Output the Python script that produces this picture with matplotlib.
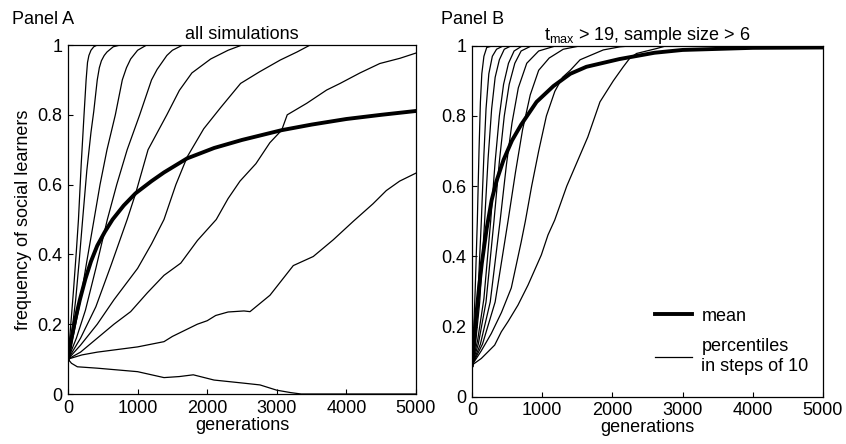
import matplotlib
matplotlib.use("Agg")
import matplotlib.pyplot as plt

plt.rcParams["font.family"] = ["Liberation Sans", "DejaVu Sans"]
plt.rcParams["mathtext.fontset"] = "custom"
plt.rcParams["mathtext.rm"] = "Liberation Sans"
plt.rcParams["mathtext.it"] = "Liberation Sans"

# ---- Panel A: all simulations (percentiles 10..90 + mean) ----
a_gen = [0, 40, 80, 120, 150, 190, 230, 260, 280, 300, 330, 370, 420, 5000]
a_val = [0.10, 0.20, 0.30, 0.41, 0.50, 0.66, 0.80, 0.90, 0.95, 0.97, 0.985, 0.995, 1.0, 1.0]

b_gen = [0, 50, 110, 160, 210, 270, 330, 370, 420, 450, 480, 520, 560, 650, 750, 5000]
b_val = [0.10, 0.17, 0.27, 0.38, 0.50, 0.64, 0.75, 0.81, 0.90, 0.935, 0.955, 0.97, 0.98, 0.995, 1.0, 1.0]

c_gen = [0, 80, 170, 270, 374, 460, 560, 680, 780, 840, 900, 1000, 1130, 5000]
c_val = [0.10, 0.17, 0.26, 0.38, 0.50, 0.60, 0.70, 0.80, 0.90, 0.935, 0.96, 0.985, 1.0, 1.0]

d_gen = [0, 120, 250, 400, 565, 700, 850, 1030, 1200, 1280, 1350, 1420, 1500, 1650, 5000]
d_val = [0.10, 0.16, 0.24, 0.36, 0.50, 0.60, 0.70, 0.80, 0.90, 0.93, 0.95, 0.97, 0.985, 1.0, 1.0]

e_gen = [0, 180, 400, 620, 850, 972, 1150, 1420, 1600, 1780, 2050, 2300, 2500, 5000]
e_val = [0.10, 0.16, 0.25, 0.37, 0.50, 0.575, 0.70, 0.80, 0.87, 0.92, 0.96, 0.985, 1.0, 1.0]

f_gen = [0, 180, 420, 660, 1000, 1200, 1379, 1550, 1714, 1950, 2190, 2480, 2750, 3050, 3290, 3480, 5000]
f_val = [0.10, 0.14, 0.20, 0.27, 0.36, 0.43, 0.50, 0.60, 0.68, 0.76, 0.82, 0.89, 0.923, 0.957, 0.98, 1.0, 1.0]

g_gen = [0, 180, 420, 660, 900, 1140, 1379, 1620, 1860, 2130, 2300, 2471, 2700, 2900,
         3070, 3150, 3430, 3716, 3910, 4195, 4480, 4770, 5000]
g_val = [0.10, 0.12, 0.16, 0.20, 0.236, 0.29, 0.34, 0.375, 0.44, 0.50, 0.56, 0.61, 0.66, 0.72,
         0.756, 0.80, 0.833, 0.871, 0.89, 0.92, 0.947, 0.962, 0.977]

h_gen = [0, 200, 421, 1000, 1379, 1500, 1858, 2000, 2122, 2300, 2529, 2615, 2902, 3237,
         3524, 3812, 4100, 4382, 4574, 4765, 5000]
h_val = [0.10, 0.112, 0.12, 0.135, 0.15, 0.165, 0.20, 0.21, 0.225, 0.235, 0.238, 0.236, 0.283, 0.368,
         0.394, 0.442, 0.495, 0.545, 0.583, 0.61, 0.633]

i_gen = [0, 50, 134, 421, 1000, 1379, 1600, 1800, 2098, 2529, 2759, 2998, 3200, 3350, 5000]
i_val = [0.10, 0.088, 0.078, 0.074, 0.064, 0.047, 0.05, 0.055, 0.04, 0.031, 0.026, 0.011, 0.004, 0.0, 0.0]

mean_a_gen = [0, 50, 100, 170, 250, 330, 420, 530, 640, 800, 970, 1200, 1380, 1710,
              2100, 2500, 3070, 3500, 4000, 4500, 5000]
mean_a_val = [0.10, 0.16, 0.21, 0.27, 0.33, 0.38, 0.425, 0.465, 0.50, 0.54, 0.575, 0.61, 0.635, 0.675,
              0.705, 0.728, 0.756, 0.772, 0.788, 0.80, 0.811]

# ---- Panel B: t_max > 19, sample size > 6 ----
b1_gen = [0, 20, 45, 76, 100, 120, 140, 170, 210, 300, 5000]
b1_val = [0.09, 0.17, 0.30, 0.50, 0.70, 0.84, 0.92, 0.97, 0.995, 1.0, 1.0]

b2_gen = [0, 40, 80, 133, 170, 200, 240, 290, 350, 450, 5000]
b2_val = [0.09, 0.16, 0.27, 0.50, 0.69, 0.82, 0.92, 0.97, 0.99, 1.0, 1.0]

b3_gen = [0, 50, 110, 180, 230, 280, 330, 390, 460, 560, 5000]
b3_val = [0.09, 0.15, 0.27, 0.50, 0.68, 0.82, 0.91, 0.96, 0.99, 1.0, 1.0]

b4_gen = [0, 80, 170, 266, 330, 390, 450, 520, 600, 720, 5000]
b4_val = [0.09, 0.16, 0.28, 0.50, 0.67, 0.80, 0.89, 0.95, 0.985, 1.0, 1.0]

b5_gen = [0, 90, 200, 313, 390, 460, 530, 610, 700, 850, 5000]
b5_val = [0.09, 0.15, 0.27, 0.50, 0.67, 0.80, 0.89, 0.95, 0.985, 1.0, 1.0]

b6_gen = [0, 120, 260, 400, 490, 570, 660, 780, 950, 1200, 5000]
b6_val = [0.09, 0.15, 0.27, 0.50, 0.66, 0.78, 0.88, 0.95, 0.985, 1.0, 1.0]

b7_gen = [0, 150, 330, 513, 620, 720, 830, 950, 1100, 1300, 1550, 5000]
b7_val = [0.09, 0.15, 0.27, 0.50, 0.64, 0.76, 0.86, 0.93, 0.965, 0.99, 1.0, 1.0]

b8_gen = [0, 130, 275, 420, 560, 700, 760, 850, 950, 1060, 1180, 1290, 1400, 1540, 1870, 2110, 2300, 5000]
b8_val = [0.09, 0.13, 0.18, 0.24, 0.31, 0.44, 0.50, 0.60, 0.70, 0.80, 0.87, 0.91, 0.93, 0.96, 0.988, 0.997, 1.0, 1.0]

b9_gen = [0, 133, 228, 323, 418, 513, 655, 798, 893, 988, 1083, 1178, 1350, 1500, 1650,
          1823, 2013, 2155, 2250, 2345, 2630, 2772, 5000]
b9_val = [0.09, 0.109, 0.128, 0.147, 0.185, 0.214, 0.261, 0.318, 0.361, 0.404, 0.461, 0.503, 0.60, 0.67, 0.74,
          0.84, 0.90, 0.94, 0.965, 0.978, 0.992, 1.0, 1.0]

mean_b_gen = [0, 30, 60, 100, 140, 210, 280, 350, 450, 570, 700, 920, 1160, 1400, 1630,
              2100, 2600, 3000, 4000, 5000]
mean_b_val = [0.09, 0.16, 0.23, 0.31, 0.38, 0.48, 0.56, 0.615, 0.675, 0.73, 0.775, 0.84, 0.885, 0.92, 0.94,
              0.962, 0.98, 0.988, 0.994, 0.995]

panel_a = [(a_gen, a_val), (b_gen, b_val), (c_gen, c_val), (d_gen, d_val), (e_gen, e_val),
           (f_gen, f_val), (g_gen, g_val), (h_gen, h_val), (i_gen, i_val)]
panel_b = [(b1_gen, b1_val), (b2_gen, b2_val), (b3_gen, b3_val), (b4_gen, b4_val), (b5_gen, b5_val),
           (b6_gen, b6_val), (b7_gen, b7_val), (b8_gen, b8_val), (b9_gen, b9_val)]

xticks = [0, 1000, 2000, 3000, 4000, 5000]
yticks = [0, 0.2, 0.4, 0.6, 0.8, 1]
ytick_labels = ["0", "0.2", "0.4", "0.6", "0.8", "1"]

FS = 13

fig = plt.figure(figsize=(8.46, 4.44), dpi=100)
ax1 = fig.add_axes([0.0804, 0.1126, 0.4113, 0.786])
ax2 = fig.add_axes([0.5579, 0.1065, 0.4149, 0.7905])


def style(ax):
    ax.set_xlim(0, 5000)
    ax.set_ylim(0, 1)
    ax.set_xticks(xticks)
    ax.set_xticklabels([str(t) for t in xticks])
    ax.set_yticks(yticks)
    ax.set_yticklabels(ytick_labels)
    ax.tick_params(direction="in", length=3.5, width=0.8, labelsize=FS, pad=4,
                   top=False, right=False)
    for s in ax.spines.values():
        s.set_linewidth(0.9)
        s.set_color("black")
    ax.set_xlabel("generations", fontsize=FS, labelpad=0)


for gen, val in panel_a:
    ax1.plot(gen, val, color="black", lw=0.9)
ax1.plot(mean_a_gen, mean_a_val, color="black", lw=2.8)
style(ax1)
ax1.set_ylabel("frequency of social learners", fontsize=FS, labelpad=4)
ax1.set_title("all simulations", fontsize=FS, pad=4)

for gen, val in panel_b:
    ax2.plot(gen, val, color="black", lw=0.9)
ax2.plot(mean_b_gen, mean_b_val, color="black", lw=2.8)
style(ax2)
ax2.set_title(r"$t_{\mathrm{max}}$ > 19, sample size > 6", fontsize=FS, pad=4)

h_mean, = ax2.plot([], [], color="black", lw=2.8)
h_pct, = ax2.plot([], [], color="black", lw=0.9)
ax2.legend([h_mean, h_pct], ["mean", "percentiles\nin steps of 10"], loc="lower right",
           bbox_to_anchor=(0.985, 0.037), frameon=False, fontsize=FS, handlelength=2.1,
           handletextpad=0.5, labelspacing=0.75, borderpad=0)

fig.text(12 / 846, 1 - 20 / 444, "Panel A", fontsize=FS, va="center", ha="left")
fig.text(441 / 846, 1 - 20 / 444, "Panel B", fontsize=FS, va="center", ha="left")

fig.savefig("out.png", dpi=100)
